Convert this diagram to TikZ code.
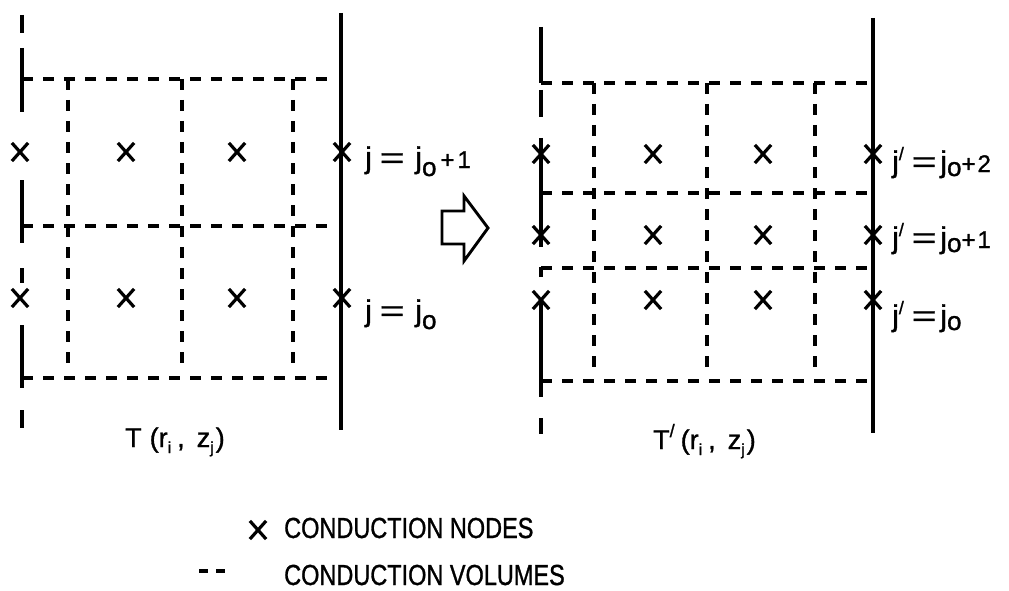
\documentclass[tikz,border=0pt]{standalone}
\usepackage{fontspec}
\setmainfont{Liberation Sans}[FakeBold=1.2]
\usetikzlibrary{shapes.misc}
\newcommand\lowo[1]{\raisebox{-#1}{\fontsize{26}{26}\selectfont o}}
\newcommand\smalltxt[1]{{\fontsize{24}{24}\selectfont #1}}
\newcommand\primemark{\raisebox{12pt}{\fontsize{18}{18}\selectfont /}}
\newcommand\lowsub[1]{\raisebox{-6pt}{\fontsize{16}{16}\selectfont #1}}
\newcommand\eqs{\scalebox{1.4}[1]{=}}
\tikzset{
  axisline/.style={line width=3.4pt},
  vol/.style={line width=3.1pt, dash pattern=on 11pt off 10pt},
  legdash/.style={line width=3.1pt},
  cnode/.style={cross out, draw, line width=3.2pt, minimum width=13pt, minimum height=15pt, inner sep=0pt},
  jlbl/.style={anchor=base west, inner sep=0pt, font=\fontsize{30}{30}\selectfont},
  tlbl/.style={anchor=base west, inner sep=0pt, font=\fontsize{27}{27}\selectfont},
  leg/.style={anchor=base west, inner sep=0pt, font=\fontsize{29}{29}\selectfont},
  blockarrow/.style={line width=2.9pt, line join=miter},
}
\begin{document}
\begin{tikzpicture}[x=1pt,y=-1pt]
\useasboundingbox (0,0) rectangle (1009,591);
% ---------- left panel ----------
\draw[axisline] (22,15) -- (22,33);
\draw[axisline] (22,48) -- (22,112);
\draw[axisline] (22,180) -- (22,243);
\draw[axisline] (22,268) -- (22,283);
\draw[axisline] (22,325) -- (22,388);
\draw[axisline] (22,410) -- (22,428);
\draw[axisline] (341,13) -- (341,430);
\foreach \y in {79,226,378} \draw[vol] (22,\y) -- (335,\y);
\foreach \x in {68,182,293} \draw[vol] (\x,79) -- (\x,370);
\node[cnode] (a11) at (20,152) {};
\node[cnode] (a12) at (126,152) {};
\node[cnode] (a13) at (237,152) {};
\node[cnode] (a14) at (342,152) {};
\node[cnode] (a21) at (20,298) {};
\node[cnode] (a22) at (126,298) {};
\node[cnode] (a23) at (237,298) {};
\node[cnode] (a24) at (342,298) {};
\node[jlbl] (la1) at (365,168) {j\hspace{8pt}\eqs\hspace{11pt}j\lowo{8pt}\hspace{4pt}\smalltxt{+\hspace{3pt}1}};
\node[jlbl] (la2) at (365,321) {j\hspace{8pt}\eqs\hspace{11pt}j\lowo{8pt}};
\node[tlbl] (ta) at (125,447) {T\hspace{8pt}(r\lowsub{i}\hspace{6pt},\hspace{12pt}z\lowsub{j}\hspace{2pt})};
% ---------- arrow ----------
\draw[blockarrow] (442,211) -- (464,211) -- (464,196) -- (488,228) -- (464,261) -- (464,244) -- (442,244) -- cycle;
% ---------- right panel ----------
\draw[axisline] (541,27) -- (541,83);
\draw[axisline] (541,90) -- (541,117);
\draw[axisline] (541,138) -- (541,247);
\draw[axisline] (541,267) -- (541,277);
\draw[axisline] (541,298) -- (541,397);
\draw[axisline] (541,418) -- (541,434);
\draw[axisline] (873,18) -- (873,433);
\foreach \y in {83,193,268,381} \draw[vol] (541,\y) -- (868,\y);
\foreach \x in {594,707,815} \draw[vol] (\x,83) -- (\x,375);
\node[cnode] (b11) at (541,154) {};
\node[cnode] (b12) at (653,154) {};
\node[cnode] (b13) at (763,154) {};
\node[cnode] (b14) at (873,154) {};
\node[cnode] (b21) at (541,235) {};
\node[cnode] (b22) at (653,235) {};
\node[cnode] (b23) at (763,235) {};
\node[cnode] (b24) at (873,235) {};
\node[cnode] (b31) at (541,300) {};
\node[cnode] (b32) at (653,300) {};
\node[cnode] (b33) at (763,300) {};
\node[cnode] (b34) at (873,300) {};
\node[jlbl] (lb1) at (892,172) {j\primemark\hspace{8pt}\eqs\hspace{4pt}j\lowo{4pt}\smalltxt{+\hspace{2pt}2}};
\node[jlbl] (lb2) at (892,248) {j\primemark\hspace{8pt}\eqs\hspace{4pt}j\lowo{4pt}\smalltxt{+\hspace{2pt}1}};
\node[jlbl] (lb3) at (892,326) {j\primemark\hspace{8pt}\eqs\hspace{4pt}j\lowo{4pt}};
\node[tlbl] (tb) at (653,449) {T\primemark\hspace{6pt}(r\lowsub{i}\hspace{6pt},\hspace{12pt}z\lowsub{j}\hspace{2pt})};
% ---------- legend ----------
\node[cnode] (lgx) at (258,530) {};
\node[leg] (lg1) at (284,538) {\scalebox{0.81}[1]{CONDUCTION NODES}};
\draw[legdash] (199,571) -- (208,571);
\draw[legdash] (216,571) -- (225,571);
\node[leg] (lg2) at (284,585) {\scalebox{0.81}[1]{CONDUCTION VOLUMES}};
\end{tikzpicture}
\end{document}
